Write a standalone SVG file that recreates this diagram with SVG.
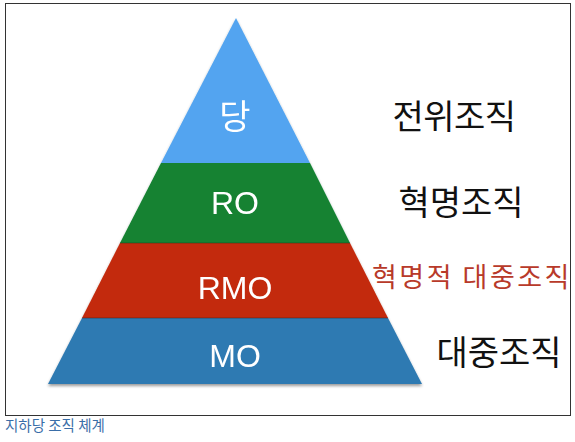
<svg xmlns="http://www.w3.org/2000/svg" width="575" height="442" viewBox="0 0 575 442">
<defs>
<style>
.lbl{font-family:"Liberation Sans","Noto Sans CJK KR",sans-serif;fill:#fff;text-anchor:middle}
.kr{font-family:"Noto Sans CJK KR","Noto Sans",sans-serif;text-anchor:middle}
</style>
<filter id="sh" x="-10%" y="-10%" width="120%" height="130%"><feGaussianBlur in="SourceAlpha" stdDeviation="1.5"/><feOffset dy="2"/><feComponentTransfer><feFuncA type="linear" slope="0.4"/></feComponentTransfer><feMerge><feMergeNode/><feMergeNode in="SourceGraphic"/></feMerge></filter>
</defs>
<rect x="0" y="0" width="575" height="442" fill="#fff"/>
<rect x="5.5" y="3.5" width="565" height="412" fill="#fff" stroke="#333" stroke-width="1"/>
<g filter="url(#sh)">
<g id="n-party"><polygon points="236,18 310,163 161,163" fill="#52a4f0"/><text class="lbl" x="235" y="129" font-size="34" font-family="Noto Sans CJK KR">당</text></g>
<g id="n-ro"><polygon points="161,163 310,163 350,243 120,243" fill="#138230"/><text class="lbl" x="235" y="214" font-size="32">RO</text></g>
<g id="n-rmo"><polygon points="120,243 350,243 388,318 82,318" fill="#c32a0c"/><text class="lbl" x="235" y="299" font-size="32">RMO</text></g>
<g id="n-mo"><polygon points="82,318 388,318 422,384 48,384" fill="#2f7ab2"/><text class="lbl" x="235" y="367" font-size="32">MO</text></g>
</g>
<line x1="120" y1="243" x2="350" y2="243" stroke="#1d3a1d" stroke-width="1" opacity="0.5"/>
<line x1="82" y1="318" x2="388" y2="318" stroke="#3a2020" stroke-width="1" opacity="0.5"/>
<g id="labels">
<text class="kr" x="454" y="129" font-size="34" fill="#111" letter-spacing="-0.5">전위조직</text>
<text class="kr" x="461" y="215" font-size="34" fill="#111" letter-spacing="0">혁명조직</text>
<text class="kr" x="472" y="287" font-size="27" fill="#b83a2a" letter-spacing="2.5">혁명적 대중조직</text>
<text class="kr" x="499" y="365" font-size="34" fill="#111" letter-spacing="0">대중조직</text>
</g>
<text x="5" y="431" font-family="Noto Sans CJK KR,sans-serif" font-size="14.5" fill="#3a6ea8">지하당 조직 체계</text>
</svg>
